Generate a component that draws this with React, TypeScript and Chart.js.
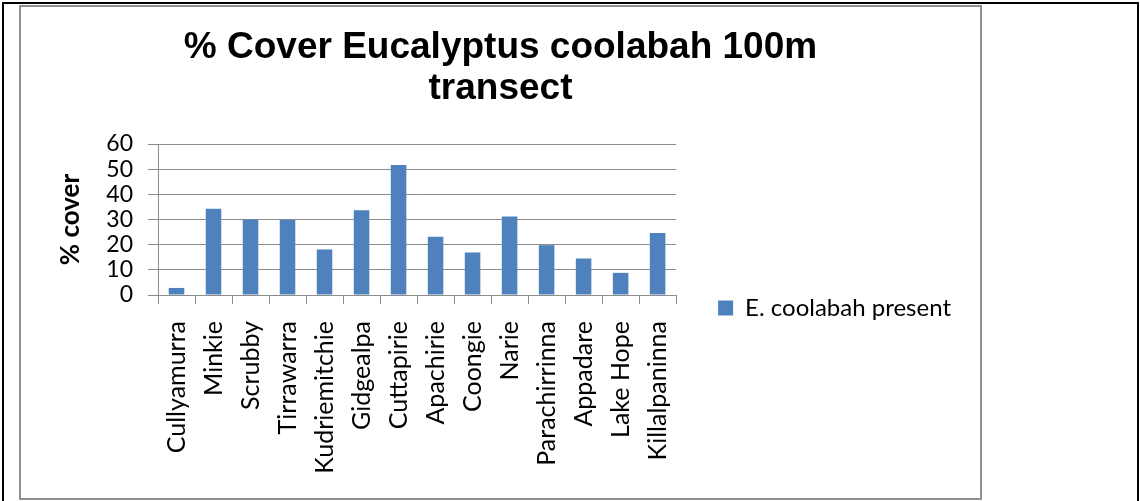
import React, { useEffect, useRef } from "react";
import { Chart, registerables } from "chart.js";

Chart.register(...registerables);

const categories = [
  "Cullyamurra",
  "Minkie",
  "Scrubby",
  "Tirrawarra",
  "Kudriemitchie",
  "Gidgealpa",
  "Cuttapirie",
  "Apachirie",
  "Coongie",
  "Narie",
  "Parachirrinna",
  "Appadare",
  "Lake Hope",
  "Killalpaninna",
];

const coverValues = [2.8, 34.3, 30.0, 29.9, 18.1, 33.7, 51.7, 23.1, 16.9, 31.2, 19.8, 14.5, 8.8, 24.6];

const seriesLabel = "E. coolabah present";
const titleLines = ["% Cover Eucalyptus coolabah 100m", "transect"];
const yAxisTitle = "% cover";
const yMin = 0;
const yMax = 60;
const yStep = 10;

const BODY_FONT = "Lato, 'Open Sans', sans-serif";
const TITLE_FONT = "'Liberation Sans', Arial, sans-serif";
const GRID = "#8c8c8c";

export default function App() {
  const canvasRef = useRef<HTMLCanvasElement | null>(null);

  useEffect(() => {
    if (!canvasRef.current) return;
    const chart = new Chart(canvasRef.current, {
      type: "bar",
      data: {
        labels: categories,
        datasets: [
          {
            label: seriesLabel,
            data: coverValues,
            backgroundColor: "#4F81BD",
            borderWidth: 0,
            categoryPercentage: 1,
            barPercentage: 0.42,
            yAxisID: "y",
          },
        ],
      },
      options: {
        responsive: false,
        animation: false,
        devicePixelRatio: 1,
        layout: { padding: { left: 19, right: 19, top: 0, bottom: 0 } },
        plugins: {
          tooltip: { enabled: false },
          title: {
            display: true,
            text: titleLines,
            color: "#000",
            font: { family: TITLE_FONT, size: 37, weight: "bold", lineHeight: 41 / 37 },
            padding: { top: 20, bottom: 35 },
          },
          legend: {
            display: true,
            position: "right",
            maxWidth: 400,
            labels: {
              boxWidth: 15,
              boxHeight: 15,
              color: "#000",
              font: { family: BODY_FONT, size: 24 },
              padding: 10,
            },
          },
        },
        scales: {
          x: {
            type: "category",
            offset: true,
            grid: {
              display: true,
              drawOnChartArea: false,
              drawTicks: true,
              tickLength: 9,
              color: GRID,
              offset: true,
            },
            border: { display: true, color: GRID, width: 1 },
            ticks: {
              minRotation: 90,
              maxRotation: 90,
              autoSkip: false,
              color: "#000",
              padding: 17,
              font: { family: BODY_FONT, size: 25 },
            },
            afterFit: (s: any) => {
              s.height = 314;
            },
          },
          y: {
            type: "linear",
            position: "left",
            min: yMin,
            max: yMax,
            ticks: {
              stepSize: yStep,
              autoSkip: false,
              color: "#000",
              padding: 15,
              font: { family: BODY_FONT, size: 23 },
            },
            grid: { color: GRID, tickLength: 10, lineWidth: 1 },
            border: { display: true, color: GRID, width: 1 },
            title: {
              display: true,
              text: yAxisTitle,
              color: "#000",
              font: { family: BODY_FONT, size: 26, weight: "bold" },
              padding: { top: 15.5, bottom: 0 },
            },
            afterFit: (s: any) => {
              s.width = 118;
            },
          },
          gap: {
            type: "linear",
            position: "right",
            display: true,
            grid: { display: false },
            border: { display: false },
            ticks: { display: false },
            afterFit: (s: any) => {
              s.width = 32;
            },
          },
        },
      },
    });
    return () => chart.destroy();
  }, []);

  return (
    <div
      style={{
        position: "fixed",
        left: 0,
        top: 0,
        width: 1140,
        height: 501,
        overflow: "hidden",
        background: "#fff",
      }}
    >
      <div
        style={{
          position: "absolute",
          left: 2,
          top: 2,
          width: 1133,
          height: 540,
          border: "2px solid #000",
        }}
      />
      <div
        style={{
          position: "absolute",
          left: 19,
          top: 5,
          width: 959,
          height: 491,
          border: "2px solid #8f8f8f",
          background: "#fff",
        }}
      />
      <div
        style={{
          position: "absolute",
          left: 21,
          top: 7,
          width: 959,
          height: 491,
          overflow: "hidden",
        }}
      >
        <canvas ref={canvasRef} width={959} height={602} style={{ width: 959, height: 602, display: "block" }} />
      </div>
    </div>
  );
}
